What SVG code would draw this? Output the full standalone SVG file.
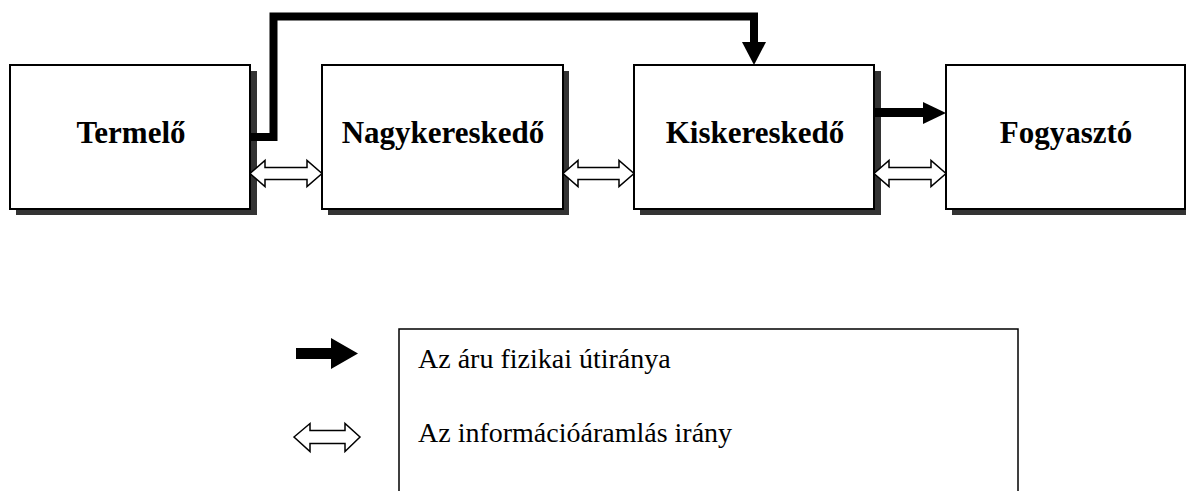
<svg xmlns="http://www.w3.org/2000/svg" width="1186" height="491" viewBox="0 0 1186 491">
<style>
.box{fill:#fff;stroke:#000;stroke-width:2}
.shadow{fill:#333}
.lbl{font-family:"Liberation Serif","Times New Roman",serif;font-weight:bold;font-size:31px;text-anchor:middle;fill:#000}
.leg{font-family:"Liberation Serif","Times New Roman",serif;font-size:28px;fill:#000}
.thick{fill:none;stroke:#000;stroke-width:8;stroke-linejoin:miter}
.hollow{fill:#fff;stroke:#000;stroke-width:1.5;stroke-linejoin:miter}
</style>
<rect width="1186" height="491" fill="#fff"/>
<g id="termelo">
<rect class="shadow" x="16" y="71" width="241" height="144"/>
<rect class="box" x="10" y="65" width="240" height="144"/>
<text class="lbl" x="131" y="143">Termelő</text>
</g>
<g id="nagykereskedo">
<rect class="shadow" x="328" y="71" width="241" height="144"/>
<rect class="box" x="322" y="65" width="241" height="144"/>
<text class="lbl" x="443" y="143">Nagykereskedő</text>
</g>
<g id="kiskereskedo">
<rect class="shadow" x="640" y="71" width="241" height="144"/>
<rect class="box" x="634" y="65" width="240" height="144"/>
<text class="lbl" x="755" y="143">Kiskereskedő</text>
</g>
<g id="fogyaszto">
<rect class="shadow" x="952" y="71" width="240" height="144"/>
<rect class="box" x="946" y="65" width="239" height="144"/>
<text class="lbl" x="1066" y="143">Fogyasztó</text>
</g>
<g id="connectors">
<polyline class="thick" points="250,137 273.5,137 273.5,16.5 754,16.5 754,43"/>
<polygon points="742,42 766,42 754,65" fill="#000"/>
<line x1="874" y1="112.5" x2="924" y2="112.5" stroke="#000" stroke-width="9"/>
<polygon points="923,102 923,124 946,113" fill="#000"/>
<polygon class="hollow" points="250,173.5 265,160.5 265,167.5 307,167.5 307,160.5 322,173.5 307,186.5 307,179.5 265,179.5 265,186.5"/>
<polygon class="hollow" points="563,173.5 578,160.5 578,167.5 619,167.5 619,160.5 634,173.5 619,186.5 619,179.5 578,179.5 578,186.5"/>
<polygon class="hollow" points="874,173.5 889,160.5 889,167.5 931,167.5 931,160.5 946,173.5 931,186.5 931,179.5 889,179.5 889,186.5"/>
</g>
<g id="legend">
<rect x="399" y="329" width="619" height="180" fill="none" stroke="#000" stroke-width="1.5"/>
<polygon points="296,348 331,348 331,338 358,353.5 331,369 331,359 296,359" fill="#000"/>
<polygon class="hollow" points="294,437 310,423.5 310,430.5 345,430.5 345,423.5 360,437 345,451.5 345,443.5 310,443.5 310,451.5"/>
<text class="leg" x="418" y="368">Az áru fizikai útiránya</text>
<text class="leg" x="418" y="442">Az információáramlás irány</text>
</g>
</svg>
